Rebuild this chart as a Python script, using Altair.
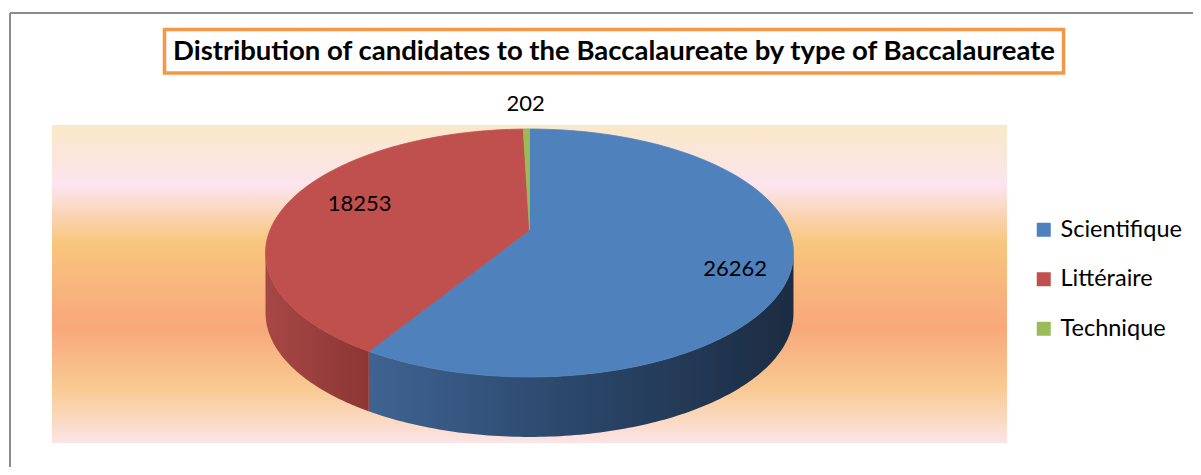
import altair as alt
import pandas as pd

# ---- data ----
categories = ["Scientifique", "Littéraire", "Technique"]
values = [26262, 18253, 202]
colors = ["#4F81BD", "#C0504D", "#9BBB59"]
title_text = "Distribution of candidates to the Baccalaureate by type of Baccalaureate"

# ---- layout / style constants (chart pixel space) ----
W, H = 1185, 459
CX, CY, A, B, K, DEPTH = 521.5, 222.0, 259.4, 119.7, 0.1855, 60.0
N = 120
side_stops = [
    [("#3F6392", 0.0), ("#2A4669", 0.5), ("#1C2C42", 1.0)],
    [("#A64845", 0.0), ("#8C3634", 1.0)],
    [("#7E9A48", 0.0), ("#5F7536", 1.0)],
]

df = pd.DataFrame({"type": categories, "value": values, "ord": list(range(len(categories)))})
one = pd.DataFrame({"d": [0]})

xs = alt.X("px:Q", scale=alt.Scale(domain=[0, W], range=[0, W], nice=False, zero=False), axis=None)
ys = alt.Y("py:Q", scale=alt.Scale(domain=[0, H], range=[0, H], nice=False, zero=False), axis=None)

PX = f"{CX} + {A} * datum.u / (1 + {K} * datum.v)"
PY = f"{CY} - {B} * datum.v / (1 + {K} * datum.v)"


def angles(ch):
    return (
        ch.transform_joinaggregate(total="sum(value)")
        .transform_window(cum="sum(value)", sort=[alt.SortField("ord", order="ascending")], frame=[None, 0])
        .transform_calculate(a0="(datum.cum - datum.value) / datum.total * 2 * PI")
        .transform_calculate(a1="datum.cum / datum.total * 2 * PI")
    )


# background gradient panel
bg = alt.Chart(one).mark_rect(
    fill=alt.LinearGradient(
        gradient="linear",
        x1=0, x2=0, y1=0, y2=1,
        stops=[
            alt.GradientStop(color="#FAE8C8", offset=0.0),
            alt.GradientStop(color="#FCE4EE", offset=0.19),
            alt.GradientStop(color="#F8C67C", offset=0.37),
            alt.GradientStop(color="#F8B57E", offset=0.51),
            alt.GradientStop(color="#F8A87A", offset=0.635),
            alt.GradientStop(color="#F9CA92", offset=0.83),
            alt.GradientStop(color="#FCE4E6", offset=1.0),
        ],
    )
).encode(x=alt.value(44), x2=alt.value(999), y=alt.value(117), y2=alt.value(435))

# outer frame (top and left edges visible)
frame_top = alt.Chart(one).mark_rule(color="#8C8C8C", strokeWidth=2).encode(
    x=alt.value(2), x2=alt.value(W), y=alt.value(5)
)
frame_left = alt.Chart(one).mark_rule(color="#8C8C8C", strokeWidth=2).encode(
    x=alt.value(2), y=alt.value(5), y2=alt.value(H)
)

# title box + text
title_box = alt.Chart(one).mark_rect(fill="white", stroke="#F79646", strokeWidth=3.5).encode(
    x=alt.value(156.5), x2=alt.value(1055.5), y=alt.value(21.5), y2=alt.value(65)
)
title = alt.Chart(one).mark_text(
    text=title_text, font="Lato", fontWeight="bold", fontSize=27.5, align="center", baseline="middle", color="black"
).encode(x=alt.value(606), y=alt.value(44))

# side walls of the 3D pie
lo = f"(PI / 2 + asin({K}))"
hi = f"(3 * PI / 2 - asin({K}))"
side_base = (
    angles(alt.Chart(df))
    .transform_calculate(s0=f"max(datum.a0, {lo})")
    .transform_calculate(s1=f"min(datum.a1, {hi})")
    .transform_filter("datum.s0 < datum.s1")
    .transform_calculate(steps=f"sequence(0, {2 * N + 2})")
    .transform_flatten(["steps"], as_=["step"])
    .transform_calculate(low=f"datum.step > {N}")
    .transform_calculate(
        th=f"datum.low ? datum.s1 - (datum.s1 - datum.s0) * (datum.step - {N + 1}) / {N} : datum.s0 + (datum.s1 - datum.s0) * datum.step / {N}"
    )
    .transform_calculate(u="sin(datum.th)")
    .transform_calculate(v="cos(datum.th)")
    .transform_calculate(px=PX)
    .transform_calculate(py=f"{PY} + (datum.low ? {DEPTH} : 0)")
)

side_layers = []
for cat, stops in zip(categories, side_stops):
    side_layers.append(
        side_base.transform_filter(alt.datum.type == cat)
        .mark_line(
            fill=alt.LinearGradient(
                gradient="linear", x1=0, x2=1, y1=0, y2=0,
                stops=[alt.GradientStop(color=c, offset=o) for c, o in stops],
            ),
            strokeOpacity=0,
        )
        .encode(x=xs, y=ys, order=alt.Order("step:Q"), detail="type:N")
    )

# top faces
top = (
    angles(alt.Chart(df))
    .transform_calculate(steps=f"sequence(0, {N + 3})")
    .transform_flatten(["steps"], as_=["step"])
    .transform_calculate(th=f"datum.a0 + (datum.a1 - datum.a0) * clamp(datum.step - 1, 0, {N}) / {N}")
    .transform_calculate(edge=f"datum.step > 0 && datum.step <= {N + 1}")
    .transform_calculate(u="datum.edge ? sin(datum.th) : 0")
    .transform_calculate(v="datum.edge ? cos(datum.th) : 0")
    .transform_calculate(px=PX)
    .transform_calculate(py=PY)
    .mark_line(strokeWidth=0.8, interpolate="linear")
    .encode(
        x=xs,
        y=ys,
        order=alt.Order("step:Q"),
        detail="type:N",
        fill=alt.Fill(
            "type:N",
            scale=alt.Scale(domain=categories, range=colors),
            sort=categories,
            legend=alt.Legend(
                orient="none", legendX=1024, legendY=210, title=None,
                symbolType="square", symbolSize=196, symbolStrokeWidth=0,
                labelFont="Lato", labelFontSize=23.5, labelColor="black",
                labelOffset=5, rowPadding=24.5, padding=0,
            ),
        ),
        stroke=alt.Stroke("type:N", scale=alt.Scale(domain=categories, range=colors), legend=None),
    )
)

# value labels (inside labels sit slightly past the mid-angle, as in the source)
labels = (
    angles(alt.Chart(df))
    .transform_calculate(small="datum.value / datum.total < 0.02")
    .transform_calculate(mid="(datum.a0 + datum.a1) / 2 + (datum.small ? 0 : 0.09)")
    .transform_calculate(r="datum.small ? 1.31 : 0.77")
    .transform_calculate(u="datum.r * sin(datum.mid)")
    .transform_calculate(v="datum.r * cos(datum.mid)")
    .transform_calculate(px=f"{PX} + (datum.small ? 0 : 9)")
    .transform_calculate(py=f"{PY} + (datum.small ? 0 : 4)")
    .mark_text(font="Lato", fontSize=22, color="black", align="center", baseline="middle")
    .encode(x=xs, y=ys, text=alt.Text("value:Q", format="d"))
)

chart = (
    alt.layer(bg, frame_top, frame_left, title_box, title, *side_layers, top, labels)
    .properties(width=W, height=H, padding=0, autosize="none", background="white")
    .configure_view(stroke=None)
)

chart.save("out.html", embed_options={"renderer": "svg", "actions": False})
